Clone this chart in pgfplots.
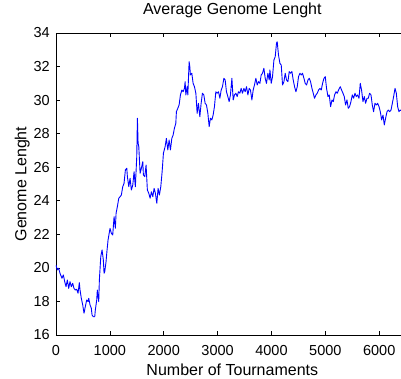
\documentclass[border=0pt]{standalone}
\usepackage{fontspec}
\setmainfont{Liberation Sans}
\usepackage{pgfplots}
\pgfplotsset{compat=1.18}
\begin{document}
\begin{tikzpicture}
\useasboundingbox (-56pt,-43pt) rectangle (345pt,335pt);
\begin{axis}[
  scale only axis,
  width=352.6pt, height=302pt,
  xmin=0, xmax=6545, ymin=16, ymax=34,
  xtick={0,1000,2000,3000,4000,5000,6000},
  ytick={16,18,20,22,24,26,28,30,32,34},
  scaled ticks=false,
  /pgf/number format/assume math mode=true,
  /pgf/number format/set thousands separator={},
  tick align=inside,
  major tick length=4pt,
  axis line style={line width=0.9pt, black},
  every tick/.style={black, line width=0.6pt},
  every tick label/.append style={inner sep=0pt, font=\fontsize{14.5}{17}\selectfont},
  xticklabel style={yshift=-10pt},
  yticklabel style={xshift=-6pt},
  title={Average Genome Lenght},
  title style={anchor=base, at={(axis description cs:0.5,1.043)}, font=\fontsize{16}{19}\selectfont, inner sep=0pt},
  xlabel={Number of Tournaments},
  xlabel style={anchor=base, at={(axis description cs:0.5,-0.1341)}, font=\fontsize{16}{19}\selectfont, inner sep=0pt},
  ylabel={Genome Lenght},
  ylabel style={anchor=base, at={(axis description cs:-0.0837,0.5)}, font=\fontsize{16}{19}\selectfont, inner sep=0pt},
]
\addplot[color={rgb,255:red,0;green,0;blue,255}, line width=0.9pt, line join=round] table {
x y
0 20.17
24 19.88
50 19.98
74 19.68
111 19.38
136 19.58
162 19.18
186 18.88
210 19.28
236 18.78
260 19.18
284 18.88
310 19.08
334 18.78
359 18.68
385 18.72
409 18.49
433 19.12
446 18.68
470 18.19
496 17.79
520 17.30
544 17.69
570 18.09
595 17.99
608 18.19
632 17.79
656 17.59
669 17.19
693 17.09
719 17.09
730 17.49
756 18.09
767 18.68
793 17.99
805 19.28
831 20.67
855 21.07
879 20.47
892 19.68
905 19.78
929 20.37
942 20.87
966 21.66
1003 22.36
1027 22.06
1053 21.96
1078 23.05
1102 22.36
1115 23.25
1139 23.65
1165 24.15
1189 24.24
1213 24.34
1239 24.84
1263 25.04
1288 25.84
1314 25.94
1325 25.44
1351 24.84
1375 25.34
1399 24.64
1425 24.94
1449 25.73
1473 24.84
1499 26.63
1511 28.92
1524 27.43
1537 27.22
1561 25.64
1585 25.94
1611 26.33
1622 25.54
1648 25.44
1672 26.13
1696 24.64
1722 24.45
1747 24.15
1771 24.54
1797 24.24
1821 24.74
1845 24.45
1871 23.85
1895 24.74
1919 24.34
1945 24.84
1970 25.73
1994 26.83
2025 27.22
2049 27.72
2075 27.03
2100 27.62
2124 27.03
2150 27.72
2174 27.92
2198 28.32
2224 28.62
2235 29.31
2261 29.51
2285 29.71
2310 30.31
2336 30.60
2360 30.50
2384 30.70
2397 31.10
2410 30.31
2434 30.80
2447 30.31
2471 32.29
2484 31.99
2495 31.50
2521 31.60
2545 31.00
2570 30.80
2596 30.41
2620 29.21
2644 29.81
2670 29.01
2694 29.81
2718 30.41
2744 30.31
2768 29.81
2793 29.71
2819 29.21
2843 28.42
2867 28.92
2893 28.82
2917 29.11
2941 29.61
2967 30.50
2991 30.41
3016 30.50
3042 30.11
3066 30.60
3090 30.80
3116 31.30
3140 31.20
3164 30.50
3190 30.21
3214 29.91
3238 30.31
3265 31.30
3289 30.01
3313 30.31
3339 30.41
3363 30.21
3387 30.50
3413 30.41
3437 30.70
3461 30.41
3488 30.70
3512 30.50
3536 30.80
3562 30.31
3586 30.70
3610 30.60
3636 30.01
3660 30.60
3684 30.90
3710 31.30
3735 30.90
3759 31.10
3785 31.00
3809 31.50
3833 31.60
3859 31.90
3883 31.30
3907 31.00
3933 31.60
3958 31.20
3971 31.80
3995 31.00
4019 31.40
4045 32.39
4069 32.59
4093 33.39
4106 33.48
4130 32.69
4156 32.19
4181 32.09
4205 30.90
4231 31.10
4255 31.60
4279 31.20
4305 31.10
4329 31.70
4353 31.60
4379 31.70
4403 31.20
4428 30.80
4454 30.50
4478 30.80
4502 31.40
4528 31.60
4552 31.50
4576 31.60
4602 31.30
4626 31.00
4651 30.90
4677 31.20
4701 31.30
4725 31.10
4751 30.70
4775 30.41
4799 30.11
4825 30.31
4849 30.41
4874 30.60
4900 30.70
4924 30.60
4948 31.00
4974 31.30
4998 31.40
5022 30.70
5048 30.21
5072 30.31
5097 29.61
5123 30.01
5147 29.91
5171 30.31
5197 30.50
5221 30.41
5245 30.60
5277 30.80
5301 30.60
5327 30.41
5351 30.21
5375 29.71
5401 30.01
5425 29.51
5449 29.61
5475 29.91
5500 30.31
5524 30.11
5550 30.41
5574 30.21
5598 30.31
5624 30.11
5648 31.00
5672 30.60
5698 29.91
5723 30.21
5747 29.81
5773 30.11
5797 30.11
5821 30.41
5847 30.31
5871 29.71
5895 29.31
5921 29.81
5946 29.71
5970 29.81
5996 29.61
6020 29.31
6044 28.82
6070 29.11
6094 28.52
6118 28.92
6144 29.31
6169 29.41
6193 29.31
6219 29.41
6243 29.81
6267 30.21
6293 30.70
6317 30.41
6342 29.61
6366 29.31
6391 29.41
6420 29.35
};
\end{axis}
\end{tikzpicture}
\end{document}
